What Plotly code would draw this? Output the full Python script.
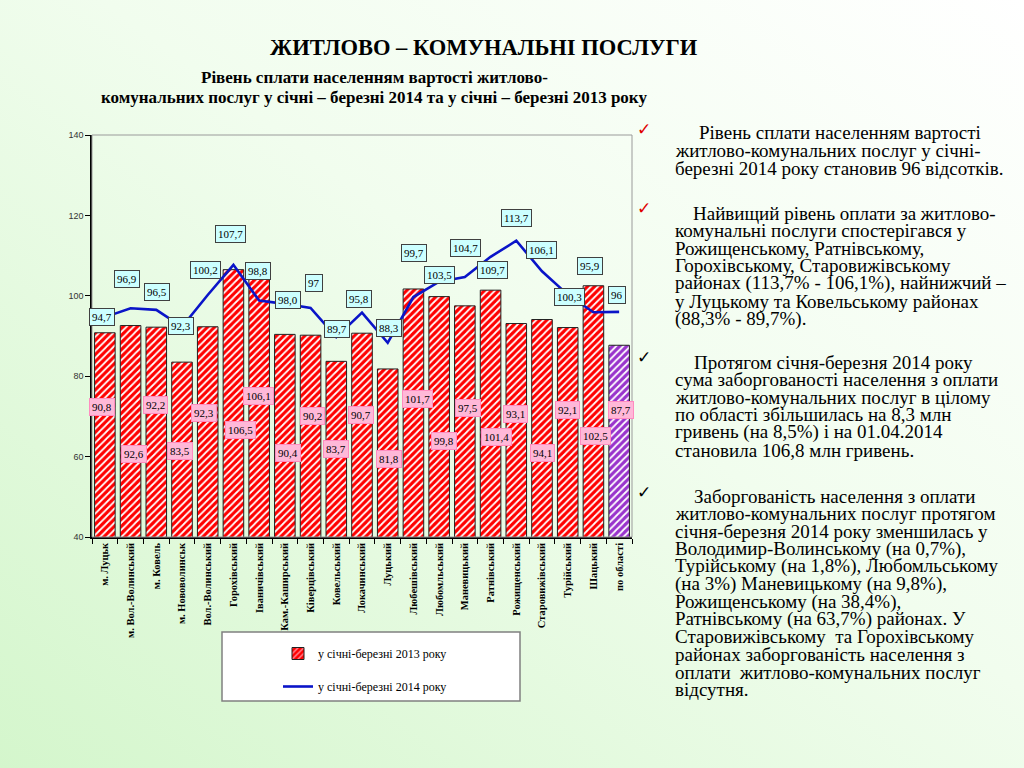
import base64
import plotly.graph_objects as go

# ---------------- data ----------------
categories = ["м. Луцьк", "м. Вол.-Волинський", "м. Ковель", "м. Нововолинськ",
              "Вол.-Волинський", "Горохівський", "Іваничівський", "Кам.-Каширський",
              "Ківерцівський", "Ковельський", "Локачинський", "Луцький",
              "Любешівський", "Любомльський", "Маневицький", "Ратнівський",
              "Рожищенський", "Старовижівський", "Турійський", "Шацький", "по області"]

values_2013 = [90.8, 92.6, 92.2, 83.5, 92.3, 106.5, 104.1, 90.4, 90.2, 83.7, 90.7,
               81.8, 101.7, 99.8, 97.5, 101.4, 93.1, 94.1, 92.1, 102.5, 87.7]
labels_2013 = ["90,8", "92,6", "92,2", "83,5", "92,3", "106,5", "106,1", "90,4", "90,2",
               "83,7", "90,7", "81,8", "101,7", "99,8", "97,5", "101,4", "93,1", "94,1",
               "92,1", "102,5", "87,7"]

values_2014 = [94.7, 96.9, 96.5, 92.3, 100.2, 107.7, 98.8, 98.0, 97.0, 89.7, 95.8,
               88.3, 99.7, 103.5, 104.7, 109.7, 113.7, 106.1, 100.3, 95.9, 96.0]
labels_2014 = ["94,7", "96,9", "96,5", "92,3", "100,2", "107,7", "98,8", "98,0", "97",
               "89,7", "95,8", "88,3", "99,7", "103,5", "104,7", "109,7", "113,7",
               "106,1", "100,3", "95,9", "96"]

y_ticks = [40, 60, 80, 100, 120, 140]

series_names = ["у січні-березні 2013 року", "у січні-березні 2014 року"]

title_text = "ЖИТЛОВО – КОМУНАЛЬНІ ПОСЛУГИ"
subtitle_lines = ["Рівень сплати населенням вартості житлово-",
                  "комунальних послуг у січні – березні 2014 та у січні – березні 2013 року"]

paragraphs = [
    ["Рівень сплати населенням вартості",
     "житлово-комунальних послуг у січні-",
     "березні 2014 року становив 96 відсотків."],
    ["Найвищий рівень оплати за житлово-",
     "комунальні послуги спостерігався у",
     "Рожищенському, Ратнівському,",
     "Горохівському, Старовижівському",
     "районах (113,7% - 106,1%), найнижчий –",
     "у Луцькому та Ковельському районах",
     "(88,3% - 89,7%)."],
    ["Протягом січня-березня 2014 року",
     "сума заборгованості населення з оплати",
     "житлово-комунальних послуг в цілому",
     "по області збільшилась на 8,3 млн",
     "гривень (на 8,5%) і на 01.04.2014",
     "становила 106,8 млн гривень."],
    ["Заборгованість населення з оплати",
     "житлово-комунальних послуг протягом",
     "січня-березня 2014 року зменшилась у",
     "Володимир-Волинському (на 0,7%),",
     "Турійському (на 1,8%), Любомльському",
     "(на 3%) Маневицькому (на 9,8%),",
     "Рожищенському (на 38,4%),",
     "Ратнівському (на 63,7%) районах. У",
     "Старовижівському  та Горохівському",
     "районах заборгованість населення з",
     "оплати  житлово-комунальних послуг",
     "відсутня."],
]

# ---------------- layout helpers (pixel positions of page elements) ----------------
W, H = 1024, 768
PL, PR, PT, PB = 92, 632, 135, 537          # plot area in pixels


def px(x):
    return (x - PL) / (PR - PL)


def py(y):
    return (PB - y) / (PB - PT)


# label offsets (pixels) / label heights (axis units)
line_label_dy = [0, 29, 18, 1, 25, 31, 30, 4, 25, 8, 14, 15, 44, 7, 29, -13, 23, 21, -2, 46, 17]
line_label_dx = [-3, -4, 1, -1, -2, -3, -1, 3, 3, 1, -3, 1, 1, 0, 1, 2, 0, -1, 2, -3, -2]
bar_label_y = [72.3, 60.6, 72.8, 61.3, 70.8, 66.6, 75.1, 61.0, 70.0, 61.9, 70.3, 59.4,
               74.3, 64.0, 72.2, 64.9, 70.6, 61.0, 71.5, 65.2, 71.6]
bar_label_dx = [-3, 3, -1, -2, -4, 7, -1, 3, 2, 0, -1, 1, 4, 5, 3, 6, -1, 0, 0, 2, 2]

para_first_y = [133, 213, 362, 496]
para_first_x = [697, 691, 692, 692]
line_step = 17.6
text_x = 673
check_y = [129, 208, 357, 492]
check_colors = ["#e00000", "#e00000", "#000000", "#000000"]

SERIF = "Liberation Serif, Times New Roman, serif"

bar_bg = ["#ff0000"] * (len(categories) - 1) + ["#9933cc"]
bar_fg = ["#ff8c9a"] * (len(categories) - 1) + ["#e0a0ff"]

fig = go.Figure()

fig.add_trace(go.Bar(
    x=categories, y=values_2013, name=series_names[0],
    width=0.8,
    marker=dict(color=bar_bg,
                line=dict(color="#202020", width=1),
                pattern=dict(shape="/", fgcolor=bar_fg, fgopacity=1,
                             size=5, solidity=0.35, fillmode="overlay")),
    legendgroup="a", hoverinfo="skip",
))

fig.add_trace(go.Scatter(
    x=categories, y=values_2014, name=series_names[1], mode="lines",
    line=dict(color="#0a14c8", width=2.6),
    legendgroup="b", hoverinfo="skip",
))

annotations = []
for i, c in enumerate(categories):
    annotations.append(dict(
        x=c, y=bar_label_y[i], xref="x", yref="y", text=labels_2013[i],
        showarrow=False, xshift=bar_label_dx[i], xanchor="center", yanchor="middle",
        font=dict(family=SERIF, size=11, color="#000000"),
        bgcolor="#ffb8d8", bordercolor="#ff8cc0", borderwidth=1, borderpad=2,
    ))
    annotations.append(dict(
        x=c, y=values_2014[i], xref="x", yref="y", text=labels_2014[i],
        showarrow=False, xshift=line_label_dx[i], yshift=line_label_dy[i],
        xanchor="center", yanchor="middle",
        font=dict(family=SERIF, size=11, color="#000000"),
        bgcolor="#ccffff", bordercolor="#404040", borderwidth=1, borderpad=2,
    ))

# title & subtitle
annotations.append(dict(x=px(484), y=py(48), xref="paper", yref="paper", text="<b>%s</b>" % title_text,
                        showarrow=False, xanchor="center", yanchor="middle",
                        font=dict(family=SERIF, size=22.5, color="#000000")))
for k, line in enumerate(subtitle_lines):
    annotations.append(dict(x=px(374), y=py(77 + 21 * k), xref="paper", yref="paper",
                            text="<b>%s</b>" % line, showarrow=False,
                            xanchor="center", yanchor="middle",
                            font=dict(family=SERIF, size=17, color="#000000")))

# right-hand text
for p, lines in enumerate(paragraphs):
    annotations.append(dict(x=px(644), y=py(check_y[p]), xref="paper", yref="paper",
                            text="✓", showarrow=False, xanchor="center", yanchor="middle",
                            font=dict(family="DejaVu Sans", size=17, color=check_colors[p])))
    for k, line in enumerate(lines):
        x0 = para_first_x[p] if k == 0 else text_x
        annotations.append(dict(x=px(x0), y=py(para_first_y[p] + line_step * k),
                                xref="paper", yref="paper", xanchor="left", yanchor="middle",
                                text=line, showarrow=False,
                                font=dict(family=SERIF, size=19, color="#000000")))

shapes = [
    # frame around plot area
    dict(type="rect", xref="paper", yref="paper", x0=0, x1=1, y0=0, y1=1,
         line=dict(color="#9a9a9a", width=1), fillcolor="rgba(0,0,0,0)", layer="above"),
    # legend box
    dict(type="rect", xref="paper", yref="paper",
         x0=px(222), x1=px(520), y0=py(701), y1=py(632),
         line=dict(color="#808080", width=1.5), fillcolor="#ffffff", layer="below"),
]

svg = ('<svg xmlns="http://www.w3.org/2000/svg" width="1024" height="768" preserveAspectRatio="none">'
       '<defs><linearGradient id="g" x1="1" y1="0" x2="0" y2="1">'
       '<stop offset="0" stop-color="#ffffff"/><stop offset="0.45" stop-color="#f1fdee"/>'
       '<stop offset="1" stop-color="#d4f6cc"/></linearGradient></defs>'
       '<rect width="1024" height="768" fill="url(#g)"/></svg>')
bg_src = "data:image/svg+xml;base64," + base64.b64encode(svg.encode()).decode()

fig.update_layout(
    width=W, height=H,
    margin=dict(l=PL, r=W - PR, t=PT, b=H - PB, autoexpand=False),
    paper_bgcolor="#eefbea",
    plot_bgcolor="#ccffcc",
    showlegend=True,
    legend=dict(x=px(278), y=py(639), xanchor="left", yanchor="top",
                bgcolor="rgba(0,0,0,0)", borderwidth=0,
                font=dict(family=SERIF, size=12, color="#000000"),
                traceorder="grouped", tracegroupgap=14, itemwidth=30),
    bargap=0.2,
    annotations=annotations,
    shapes=shapes,
    images=[dict(source=bg_src, xref="paper", yref="paper",
                 x=px(0), y=py(0), sizex=W / (PR - PL), sizey=H / (PB - PT),
                 xanchor="left", yanchor="top", sizing="stretch", layer="below")],
    xaxis=dict(type="category", tickangle=-90, ticks="outside", tickson="boundaries",
               ticklen=5, tickcolor="#000000", showline=True, linecolor="#000000",
               linewidth=1.5, showgrid=False, automargin=False,
               tickfont=dict(family=SERIF, size=10.5, color="#000000"),
               range=[-0.5, len(categories) - 0.5]),
    yaxis=dict(range=[40, 140], tickvals=y_ticks, ticks="outside", ticklen=5,
               tickcolor="#000000", showline=True, linecolor="#000000", linewidth=1.5,
               showgrid=False, zeroline=False, automargin=False,
               tickfont=dict(family="Liberation Sans, Arial, sans-serif", size=9, color="#333333")),
)

# bold tick labels
fig.update_xaxes(ticktext=["<b>%s</b>" % c for c in categories], tickvals=categories)

fig.write_html("out.html", config={"displayModeBar": False},
               post_script="document.body.style.margin='0';document.body.style.overflow='hidden';")
